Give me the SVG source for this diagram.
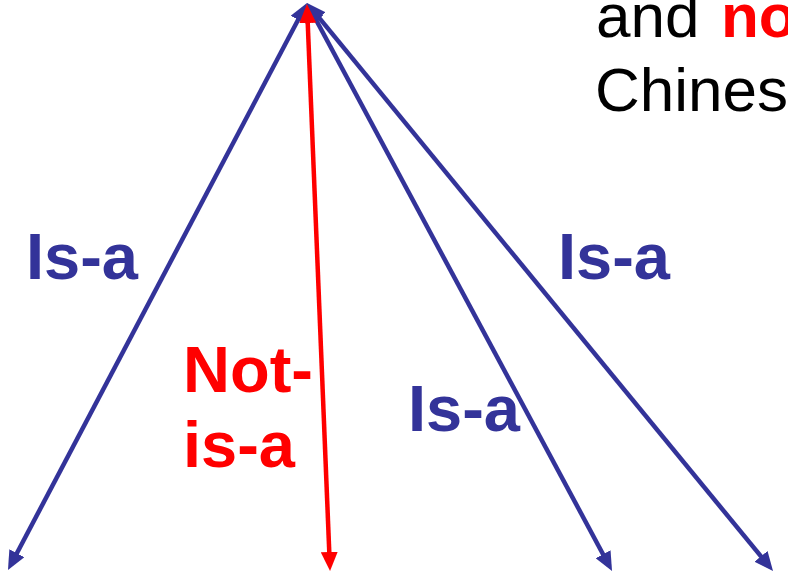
<svg xmlns="http://www.w3.org/2000/svg" width="788" height="576" viewBox="0 0 788 576">
  <style>
    .blue { stroke: #333399; stroke-width: 4.5; fill: none; }
    .red { stroke: #FF0000; stroke-width: 4.5; fill: none; }
    .lbl { font-family: "Liberation Sans", Arial, sans-serif; font-weight: bold; font-size: 65px; }
    .lb { fill: #333399; }
    .lr { fill: #FF0000; }
    .txt { font-family: "Liberation Sans", Arial, sans-serif; fill: #000000; font-size: 62px; }
  </style>
  <defs>
    <marker id="ab" markerUnits="userSpaceOnUse" markerWidth="19" markerHeight="17" viewBox="0 0 19 17" refX="13" refY="8.5" orient="auto-start-reverse">
      <path d="M0,0 L19,8.5 L0,17 Z" fill="#333399"/>
    </marker>
    <marker id="ar" markerUnits="userSpaceOnUse" markerWidth="19" markerHeight="17" viewBox="0 0 19 17" refX="13" refY="8.5" orient="auto-start-reverse">
      <path d="M0,0 L19,8.5 L0,17 Z" fill="#FF0000"/>
    </marker>
  </defs>
  <rect width="788" height="576" fill="#FFFFFF"/>
  <g id="connectors">
    <line class="blue" x1="304.2" y1="8.3" x2="10.8" y2="564.7" marker-start="url(#ab)" marker-end="url(#ab)"/>
    <line class="blue" x1="309.8" y1="8.3" x2="609.2" y2="565.7" marker-start="url(#ab)" marker-end="url(#ab)"/>
    <line class="blue" x1="310.8" y1="7.6" x2="769.2" y2="566.4" marker-start="url(#ab)" marker-end="url(#ab)"/>
    <line class="red" x1="307.2" y1="10" x2="329.8" y2="565" marker-start="url(#ar)" marker-end="url(#ar)"/>
  </g>
  <g id="label-isa-1"><text class="lbl lb" x="26" y="279">Is-a</text></g>
  <g id="label-notisa">
    <text class="lbl lr" x="183" y="392">Not-</text>
    <text class="lbl lr" x="183" y="467">is-a</text>
  </g>
  <g id="label-isa-2"><text class="lbl lb" x="408" y="431">Is-a</text></g>
  <g id="label-isa-3"><text class="lbl lb" x="558" y="279">Is-a</text></g>
  <g id="caption">
    <text class="txt" x="596" y="37">and</text>
    <text x="721" y="37" font-size="62" font-family="'Liberation Sans', Arial, sans-serif" font-weight="bold" fill="#FF0000">no</text>
    <text class="txt" x="595" y="111">Chines</text>
  </g>
</svg>
